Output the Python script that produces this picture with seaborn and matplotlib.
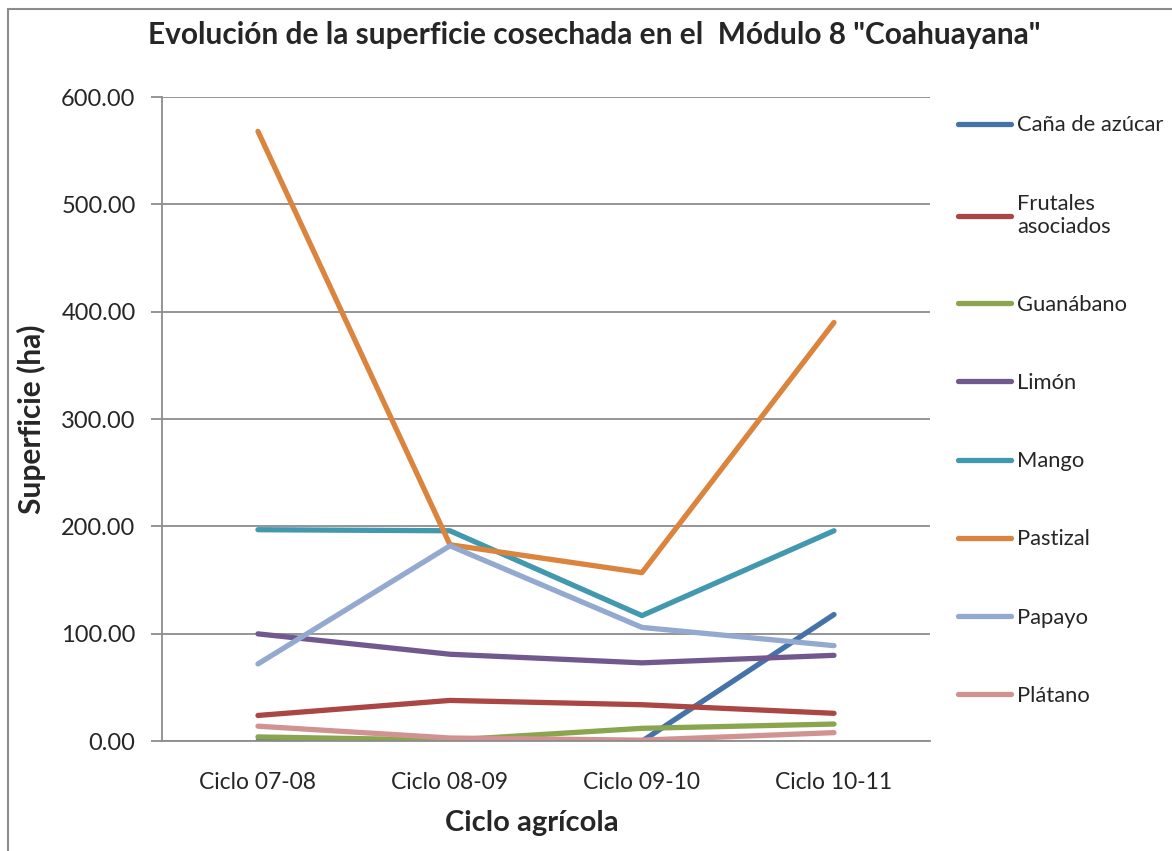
import pandas as pd
import seaborn as sns
import matplotlib.pyplot as plt
from matplotlib.ticker import FixedLocator, FormatStrFormatter
from matplotlib.patches import Rectangle

# ---------- Data ----------
ciclos = ["Ciclo 07-08", "Ciclo 08-09", "Ciclo 09-10", "Ciclo 10-11"]

cana = [0, 0, 0, 118]
frutales = [24, 38, 34, 26]
guanabano = [4, 1, 12, 16]
limon = [100, 81, 73, 80]
mango = [197, 196, 117, 196]
pastizal = [568, 183, 157, 390]
papayo = [72, 182, 106, 89]
platano = [14, 3, 1, 8]

cultivos = ["Caña de azúcar", "Frutales\nasociados", "Guanábano", "Limón",
            "Mango", "Pastizal", "Papayo", "Plátano"]
series = [cana, frutales, guanabano, limon, mango, pastizal, papayo, platano]
colores = ["#4572A7", "#AA4643", "#89A54E", "#71588F",
           "#4198AF", "#DB843D", "#93A9CF", "#D19392"]

rows = []
for nombre, vals in zip(cultivos, series):
    for c, v in zip(ciclos, vals):
        rows.append({"Ciclo": c, "Cultivo": nombre, "Superficie": v})
df = pd.DataFrame(rows)

# ---------- Plot ----------
sns.set_style("white")
plt.rcParams["font.family"] = ["Lato", "DejaVu Sans"]

fig = plt.figure(figsize=(11.72, 8.51), dpi=100)
ax = fig.add_axes([0.1382, 0.129, 0.6553, 0.757])

sns.lineplot(data=df, x="Ciclo", y="Superficie", hue="Cultivo",
             hue_order=cultivos, palette=colores, linewidth=3.8,
             sort=False, ax=ax, legend=True)

ax.set_xlim(-0.5, 3.5)
ax.set_ylim(0, 600)
ax.yaxis.set_major_locator(FixedLocator([0, 100, 200, 300, 400, 500, 600]))
ax.yaxis.set_major_formatter(FormatStrFormatter("%.2f"))
ax.grid(axis="y", color="#8c8c8c", linewidth=1.3)
ax.set_axisbelow(True)

ax.xaxis.set_minor_locator(FixedLocator([-0.5, 0.5, 1.5, 2.5, 3.5]))
ax.tick_params(axis="x", which="major", length=0, labelsize=16.5, pad=22)
ax.tick_params(axis="x", which="minor", length=8, width=1.3, color="#8c8c8c", direction="out")
ax.tick_params(axis="y", length=8, width=1.3, color="#8c8c8c", direction="out", labelsize=17, pad=11)
ax.tick_params(axis="both", bottom=True, left=True)

for s in ["top", "right"]:
    ax.spines[s].set_visible(False)
for s in ["left", "bottom"]:
    ax.spines[s].set_color("#8c8c8c")
    ax.spines[s].set_linewidth(1.3)

ax.set_xlabel("Ciclo agrícola", fontsize=21, fontweight="bold")
ax.set_ylabel("Superficie (ha)", fontsize=21.5, fontweight="bold")
ax.xaxis.set_label_coords(0.482, -0.107)
ax.yaxis.set_label_coords(-0.151, 0.5)

fig.suptitle('Evolución de la superficie cosechada en el  Módulo 8 "Coahuayana"',
             x=0.507, y=0.975, fontsize=21.5, fontweight="bold")

handles, labels = ax.get_legend_handles_labels()
ax.legend(handles, labels, loc="upper left", bbox_to_anchor=(1.025, 0.985),
          frameon=False, fontsize=15.8, labelspacing=2.65, handlelength=2.4,
          handletextpad=0.3, borderaxespad=0)

# chart area border
fig.patches.append(Rectangle((0.007, -0.01), 1.1, 1.0, transform=fig.transFigure,
                             fill=False, edgecolor="#8c8c8c", linewidth=1.5))

fig.savefig("out.png", dpi=100)
